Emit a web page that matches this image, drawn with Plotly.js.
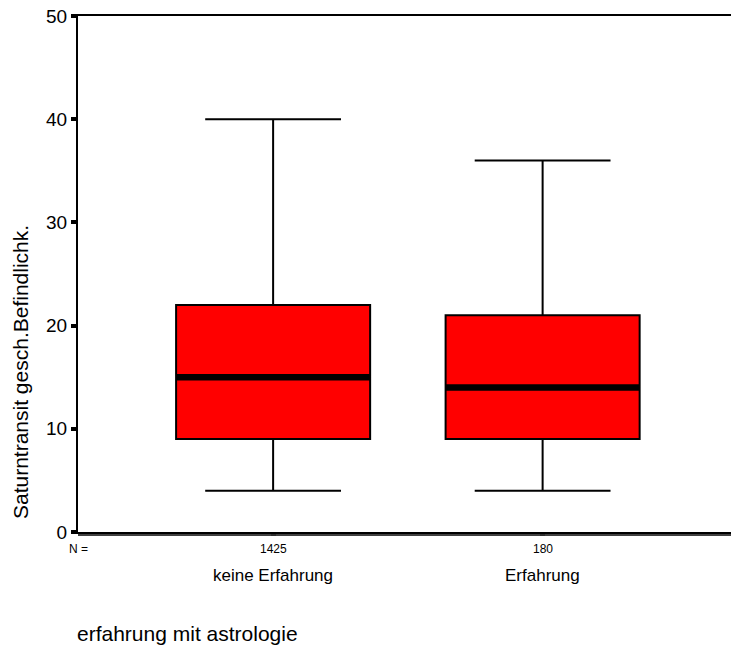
<!DOCTYPE html>
<html>
<head>
<meta charset="utf-8">
<script src="https://cdn.plot.ly/plotly-3.0.1.min.js"></script>
<style>html,body{margin:0;padding:0;background:#fff;}#chart{width:731px;height:646px;}</style>
</head>
<body>
<div id="chart"></div>
<script>
// Data
var categories = ["keine Erfahrung", "Erfahrung"];
var counts = ["1425", "180"];
var q1 = [9, 9];
var median = [15, 14];
var q3 = [22, 21];
var lowerWhisker = [4, 4];
var upperWhisker = [40, 36];
var yTickVals = [0, 10, 20, 30, 40, 50];
var xTitle = "erfahrung mit astrologie";
var yTitle = "Saturntransit gesch.Befindlichk.";

var FONT = "Liberation Sans, Arial, sans-serif";

var boxTrace = {
  type: "box",
  x: categories,
  q1: q1,
  median: median,
  q3: q3,
  lowerfence: lowerWhisker,
  upperfence: upperWhisker,
  boxpoints: false,
  width: 0.72,
  whiskerwidth: 0.7,
  fillcolor: "#FF0000",
  line: {color: "#000000", width: 2},
  hoverinfo: "skip",
  showlegend: false
};

// thick median line drawn as a zero-height box on top
var medianTrace = {
  type: "box",
  x: categories,
  q1: median,
  median: median,
  q3: median,
  lowerfence: median,
  upperfence: median,
  boxpoints: false,
  width: 0.72,
  whiskerwidth: 0,
  fillcolor: "rgba(0,0,0,0)",
  line: {color: "#000000", width: 6.5},
  hoverinfo: "skip",
  showlegend: false
};

var annotations = [];
annotations.push({xref: "paper", yref: "paper", x: 0, y: 0, xanchor: "center", yanchor: "middle",
  yshift: -17, text: "N =", showarrow: false, font: {family: FONT, size: 12, color: "#000"}});
for (var i = 0; i < categories.length; i++) {
  annotations.push({xref: "x", yref: "paper", x: categories[i], y: 0, xanchor: "center", yanchor: "middle",
    yshift: -17, text: counts[i], showarrow: false, font: {family: FONT, size: 12, color: "#000"}});
  annotations.push({xref: "x", yref: "paper", x: categories[i], y: 0, xanchor: "center", yanchor: "middle",
    yshift: -43, text: categories[i], showarrow: false, font: {family: FONT, size: 17, color: "#000"}});
}
annotations.push({xref: "paper", yref: "paper", x: 0, y: 0, xanchor: "left", yanchor: "middle",
  yshift: -101, xshift: -3, text: xTitle, showarrow: false, font: {family: FONT, size: 21, color: "#000"}});
annotations.push({xref: "paper", yref: "paper", x: 0, y: 0.31, xanchor: "center", yanchor: "middle",
  xshift: -58, textangle: -90, text: yTitle, showarrow: false, font: {family: FONT, size: 21, color: "#000"}});

var plotH = 646 - 16 - 114;

var layout = {
  width: 731,
  height: 646,
  margin: {l: 78, r: 0, t: 16, b: 114, pad: 0},
  paper_bgcolor: "#ffffff",
  plot_bgcolor: "#ffffff",
  boxmode: "overlay",
  showlegend: false,
  font: {family: FONT, color: "#000"},
  xaxis: {
    type: "category",
    range: [-0.724, 1.699],
    showgrid: false,
    zeroline: false,
    showline: true,
    linecolor: "#000",
    linewidth: 2,
    mirror: true,
    ticks: "outside",
    ticklen: 2,
    tickwidth: 5,
    tickcolor: "#b0b0b0",
    showticklabels: false,
    fixedrange: true
  },
  yaxis: {
    range: [0, 50],
    tickvals: yTickVals,
    ticktext: yTickVals.map(String),
    showgrid: false,
    zeroline: false,
    showline: true,
    linecolor: "#000",
    linewidth: 2,
    mirror: false,
    ticks: "outside",
    ticklen: 5,
    tickwidth: 4,
    tickcolor: "#000",
    tickfont: {family: FONT, size: 19, color: "#000"},
    fixedrange: true
  },
  shapes: [
    {type: "line", xref: "paper", yref: "paper", x0: 0, x1: 1, y0: -3 / plotH, y1: -3 / plotH,
     line: {color: "#000", width: 1.5}, layer: "above"}
  ],
  annotations: annotations
};

Plotly.newPlot("chart", [boxTrace, medianTrace], layout, {displayModeBar: false, staticPlot: true});
</script>
</body>
</html>
